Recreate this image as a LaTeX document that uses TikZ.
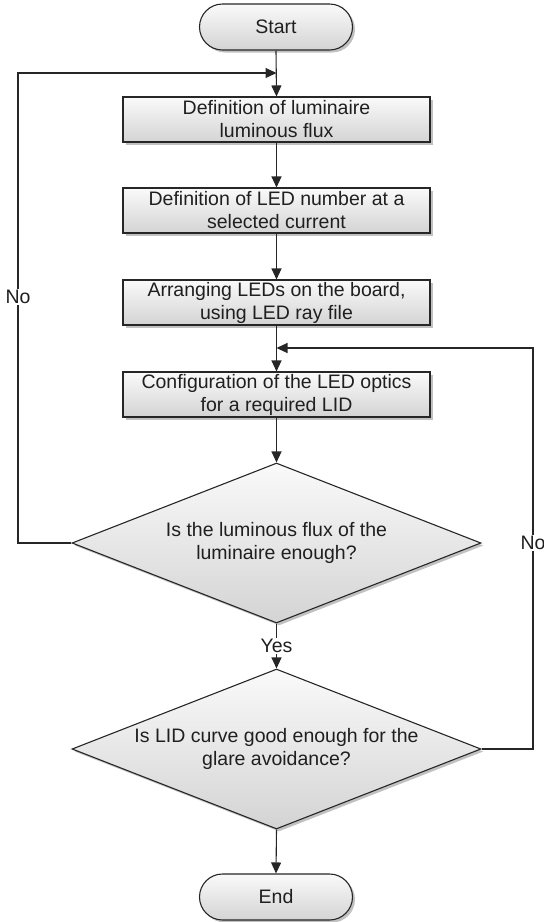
\documentclass[tikz,border=0pt]{standalone}
\usepackage{fontspec}
\setmainfont{Liberation Sans}
\usetikzlibrary{arrows.meta,shapes.geometric,shadows}
\begin{document}
\begin{tikzpicture}[x=1pt,y=-1pt,
  font=\fontsize{19.5}{23}\selectfont,
  every node/.style={text=black!88},
  shaded/.style={draw=black!85, line width=1.1pt, top color=black!2, bottom color=black!17,
    drop shadow={shadow xshift=2.5pt, shadow yshift=-2.5pt, fill=black!35, opacity=.7}},
  terminal/.style={shaded, rectangle, rounded corners=23pt, minimum width=153pt, minimum height=46pt, inner sep=0pt},
  process/.style={shaded, rectangle, minimum width=307pt, minimum height=45pt, inner sep=0pt, align=center},
  decision/.style={shaded, diamond, shape aspect=2.56, minimum width=409pt, minimum height=160pt, inner sep=0pt, align=center},
  link/.style={draw=black!85, line width=1.1pt},
  arr/.style={link, -{Triangle[length=11pt,width=10pt]}},
  tag/.style={fill=white, inner sep=1pt}]
\useasboundingbox (0,0) rectangle (544,922);

% nodes of the flow
\node[terminal] (start) at (276,27) {Start};
\node[process] (b1) at (276.5,119.5) {Definition of luminaire\\luminous flux};
\node[process] (b2) at (276.5,210.5) {Definition of LED number at a\\selected current};
\node[process] (b3) at (276.5,302.5) {Arranging LEDs on the board,\\using LED ray file};
\node[process] (b4) at (276.5,394.5) {Configuration of the LED optics\\for a required LID};
\node[decision] (d1) at (276.5,543) {Is the luminous flux of the\\luminaire enough?};
\node[decision] (d2) at (276.5,749) {Is LID curve good enough for the\\glare avoidance?};
\node[terminal] (end) at (276,897) {End};

% junction points of the two loops
\coordinate (j1) at (276.5,73);
\coordinate (j2) at (276.5,348);
\coordinate (lx) at (18,543);
\coordinate (rx) at (533,749);

% main line
\draw[arr] (start.south) -- (b1.north);
\draw[arr] (b1) -- (b2);
\draw[arr] (b2) -- (b3);
\draw[arr] (b3) -- (b4);
\draw[arr] (b4) -- (d1.north);
\draw[arr] (d1.south) -- node[tag] {Yes} (d2.north);
\draw[arr] (d2.south) -- (end.north);

% loops back
\draw[arr] (d1.west) -- (lx) |- node[tag, pos=0.262] {No} (j1);
\draw[arr] (d2.east) -- (rx) |- node[tag, pos=0.257] {No} (j2);
\end{tikzpicture}
\end{document}
